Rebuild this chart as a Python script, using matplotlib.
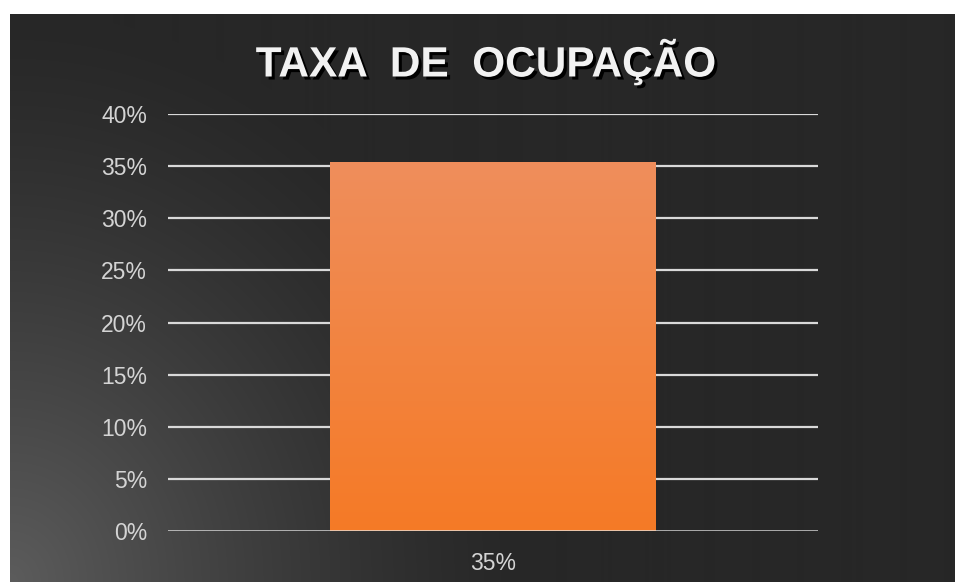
import numpy as np
import matplotlib
matplotlib.use("Agg")
import matplotlib.pyplot as plt
import matplotlib.patheffects as pe
from matplotlib.colors import LinearSegmentedColormap

# data
categories = ["35%"]
values = [0.354]
yticks = [0.0, 0.05, 0.10, 0.15, 0.20, 0.25, 0.30, 0.35, 0.40]
ytick_labels = ["0%", "5%", "10%", "15%", "20%", "25%", "30%", "35%", "40%"]
title = "TAXA  DE  OCUPAÇÃO"

W, H = 955, 582
fig = plt.figure(figsize=(W / 100, H / 100), dpi=100)
fig.patch.set_facecolor("white")

# dark panel with soft light spot in the bottom-left corner
bg = fig.add_axes([10 / W, 0, (W - 10) / W, (H - 14) / H])
bg.set_axis_off()
yy, xx = np.mgrid[0:568, 0:945]
r = np.hypot(xx * 1.05, (567 - yy) * 0.95)
shade = np.clip(1 - r / 540, 0, 1) ** 1.3
base = 0x27 / 255
peak = 0x5c / 255
img = base + (peak - base) * shade
bg.imshow(np.dstack([img, img, img]), aspect="auto", interpolation="bilinear")

ax = fig.add_axes([168 / W, (H - 531) / H, 650 / W, 417 / H])
ax.patch.set_alpha(0)

for y in yticks[1:]:
    ax.axhline(y, color="#d9d9d9", lw=1.6, zorder=1)

x = np.arange(len(categories))
bars = ax.bar(x, values, width=0.5015, color="none", zorder=2)
cmap = LinearSegmentedColormap.from_list("bar", ["#f57a26", "#ef8e5c"])
grad = np.linspace(0, 1, 256).reshape(-1, 1)
for b in bars:
    x0, y0 = b.get_x(), b.get_y()
    x1, y1 = x0 + b.get_width(), y0 + b.get_height()
    im = ax.imshow(grad, cmap=cmap, origin="lower", aspect="auto",
                   extent=[x0, x1, y0, y1], zorder=2)
    im.set_clip_path(b)
ax.set_xlim(-0.5, 0.5)
ax.set_ylim(0, 0.40)

ax.axhline(0, color="#e6e6e6", lw=1.8, alpha=0.9, zorder=3)

for s in ax.spines.values():
    s.set_visible(False)
ax.set_yticks(yticks)
ax.set_yticklabels(ytick_labels)
ax.set_xticks(x)
ax.set_xticklabels(categories)
ax.tick_params(axis="y", length=0, pad=15, labelsize=16.5, labelcolor="#d4d4d4")
ax.tick_params(axis="x", length=0, pad=15, labelsize=16.5, labelcolor="#d4d4d4")
for lab in ax.get_xticklabels() + ax.get_yticklabels():
    lab.set_fontfamily("Liberation Sans")

fig.text(486 / W, 1 - 62 / H, title, ha="center", va="center",
         fontsize=30.5, fontweight="bold", color="#f2f2f2",
         fontfamily="Liberation Sans",
         path_effects=[pe.withSimplePatchShadow(offset=(2.2, -2.2),
                                                shadow_rgbFace="black", alpha=1.0)])

fig.savefig("out.png", dpi=100, facecolor=fig.get_facecolor())
